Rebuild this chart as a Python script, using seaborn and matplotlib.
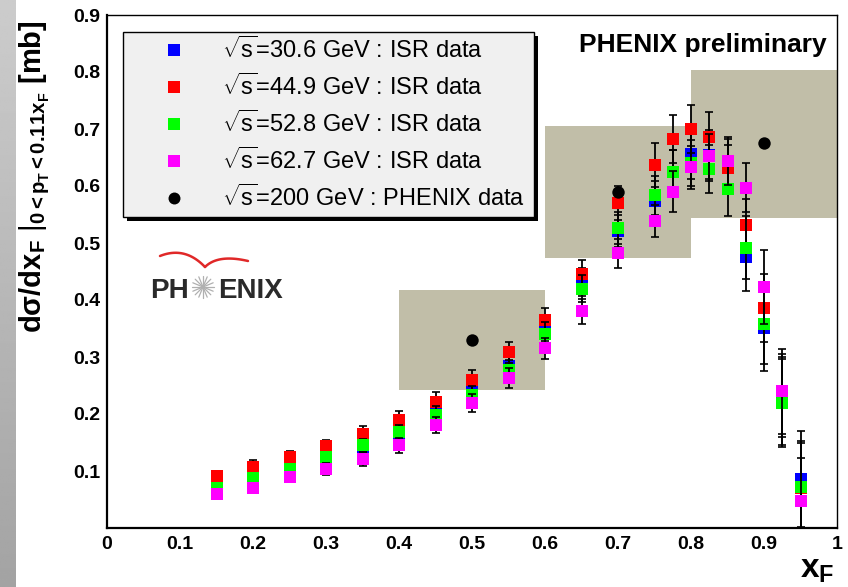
import numpy as np
import pandas as pd
import matplotlib
matplotlib.use("Agg")
import matplotlib.pyplot as plt
import seaborn as sns
from matplotlib.patches import Rectangle
from matplotlib.lines import Line2D
from matplotlib.ticker import MultipleLocator, FixedLocator

# ---------------- data ----------------
xf = [0.15, 0.2, 0.25, 0.3, 0.35, 0.4, 0.45, 0.5, 0.55, 0.6, 0.65, 0.7,
      0.75, 0.775, 0.8, 0.825, 0.85, 0.875, 0.9, 0.925, 0.95]

isr_306 = [0.080, 0.097, 0.115, 0.133, 0.142, 0.158, 0.210, 0.243, 0.285, 0.350, 0.432, 0.521,
           0.573, 0.624, 0.657, 0.654, 0.638, 0.475, 0.351, 0.225, 0.086]
isr_306_err = [0.008, 0.009, 0.010, 0.011, 0.012, 0.014, 0.016, 0.018, 0.020, 0.022, 0.025, 0.028,
               0.035, 0.040, 0.045, 0.045, 0.045, 0.060, 0.075, 0.080, 0.085]

isr_449 = [0.0915, 0.1075, 0.124, 0.143, 0.165, 0.189, 0.221, 0.259, 0.308, 0.365, 0.445, 0.570,
           0.637, 0.682, 0.700, 0.686, 0.632, 0.532, 0.386, 0.230, 0.070]
isr_449_err = [0.008, 0.011, 0.011, 0.0115, 0.014, 0.016, 0.017, 0.018, 0.019, 0.021, 0.026, 0.030,
               0.038, 0.042, 0.042, 0.043, 0.040, 0.045, 0.060, 0.070, 0.080]

isr_528 = [0.071, 0.0877, 0.104, 0.124, 0.145, 0.168, 0.199, 0.233, 0.277, 0.341, 0.420, 0.527,
           0.584, 0.625, 0.640, 0.630, 0.594, 0.492, 0.358, 0.219, 0.0725]
isr_528_err = [0.006, 0.007, 0.008, 0.009, 0.011, 0.013, 0.015, 0.017, 0.018, 0.020, 0.024, 0.028,
               0.034, 0.038, 0.040, 0.042, 0.046, 0.055, 0.070, 0.077, 0.080]

isr_627 = [0.0605, 0.071, 0.0886, 0.1035, 0.121, 0.145, 0.180, 0.219, 0.263, 0.315, 0.380, 0.482,
           0.538, 0.590, 0.633, 0.652, 0.644, 0.597, 0.423, 0.2395, 0.048]
isr_627_err = [0.006, 0.007, 0.008, 0.010, 0.012, 0.013, 0.014, 0.016, 0.017, 0.019, 0.022, 0.025,
               0.028, 0.036, 0.038, 0.040, 0.042, 0.043, 0.065, 0.074, 0.075]

phenix_x = [0.5, 0.7, 0.9]
phenix_y = [0.33, 0.59, 0.675]

sys_x_lo = [0.4, 0.6, 0.8]
sys_x_hi = [0.6, 0.8, 1.0]
sys_y_lo = [0.242, 0.474, 0.544]
sys_y_hi = [0.418, 0.705, 0.803]

series_labels = ["30.6", "44.9", "52.8", "62.7"]
series_colors = ["#0000FF", "#FF0000", "#00FF00", "#FF00FF"]
series_vals = [isr_306, isr_449, isr_528, isr_627]
series_errs = [isr_306_err, isr_449_err, isr_528_err, isr_627_err]

xticks = [0, 0.1, 0.2, 0.3, 0.4, 0.5, 0.6, 0.7, 0.8, 0.9, 1.0]
xtick_labels = ["0", "0.1", "0.2", "0.3", "0.4", "0.5", "0.6", "0.7", "0.8", "0.9", "1"]
yticks = [0.1, 0.2, 0.3, 0.4, 0.5, 0.6, 0.7, 0.8, 0.9]
ytick_labels = ["0.1", "0.2", "0.3", "0.4", "0.5", "0.6", "0.7", "0.8", "0.9"]

# ---------------- style ----------------
sns.set_theme(style="white")
plt.rcParams["font.family"] = ["Liberation Sans", "DejaVu Sans"]
plt.rcParams["mathtext.fontset"] = "custom"
plt.rcParams["mathtext.rm"] = "Liberation Sans"
plt.rcParams["mathtext.bf"] = "Liberation Sans:bold"
plt.rcParams["mathtext.it"] = "Liberation Sans:italic"

W, H = 848, 587
fig = plt.figure(figsize=(W / 100, H / 100), dpi=100)
fig.patch.set_facecolor("white")


def fx(x):
    return x / W


def fy(y):
    return 1 - y / H


# left gray gradient strip
bg = fig.add_axes([0, 0, 16 / W, 1])
grad = np.linspace(0.80, 0.64, 256).reshape(-1, 1)
bg.imshow(grad, cmap="gray", vmin=0, vmax=1, aspect="auto")
bg.axis("off")

ax = fig.add_axes([107 / W, 1 - 528 / H, 730 / W, 513 / H])
ax.set_facecolor("white")

# systematic boxes
for lo, hi, ylo, yhi in zip(sys_x_lo, sys_x_hi, sys_y_lo, sys_y_hi):
    ax.fill_between([lo, hi], [ylo, ylo], [yhi, yhi], color="#C1BEA8", lw=0, zorder=1)

# ISR series
for k, (vals, errs, col) in enumerate(zip(series_vals, series_errs, series_colors)):
    ax.errorbar(xf, vals, yerr=errs, fmt="none", ecolor="black", elinewidth=1.3,
                capsize=2.6, capthick=1.2, zorder=3 + 2 * k)
    df = pd.DataFrame({"xF": xf, "val": vals})
    sns.scatterplot(data=df, x="xF", y="val", marker="s", color=col, s=72,
                    linewidth=0, ax=ax, zorder=4 + 2 * k, legend=False)

# PHENIX points
dfp = pd.DataFrame({"xF": phenix_x, "val": phenix_y})
sns.scatterplot(data=dfp, x="xF", y="val", marker="o", color="black", s=80,
                linewidth=0, ax=ax, zorder=20, legend=False)

ax.set_xlim(0, 1)
ax.set_ylim(0, 0.9)
ax.set_xlabel("")
ax.set_ylabel("")
ax.xaxis.set_major_locator(FixedLocator(xticks))
ax.set_xticklabels(xtick_labels)
ax.yaxis.set_major_locator(FixedLocator(yticks))
ax.set_yticklabels(ytick_labels)
ax.xaxis.set_minor_locator(MultipleLocator(0.02))
ax.yaxis.set_minor_locator(MultipleLocator(0.02))
ax.tick_params(which="both", direction="in", top=False, right=False, color="black",
               width=1.1, labelsize=14, labelcolor="black")
ax.tick_params(axis="x", which="major", length=10.8, pad=6)
ax.tick_params(axis="x", which="minor", length=5.5)
ax.tick_params(axis="y", which="major", length=15.8, pad=5)
ax.tick_params(axis="y", which="minor", length=7.2)
for lab in ax.get_xticklabels() + ax.get_yticklabels():
    lab.set_fontweight("bold")
for side in ["left", "bottom"]:
    ax.spines[side].set_linewidth(1.6)
    ax.spines[side].set_color("black")
for side in ["top", "right"]:
    ax.spines[side].set_linewidth(1.0)
    ax.spines[side].set_color("black")

# axis titles
fig.text(fx(17), fy(333), "dσ/dx$_{\\mathbf{F}}$ $|_{\\mathbf{0<p_{T}<0.11x_{F}}}$ [mb]",
         rotation=90, ha="left", va="bottom", fontsize=21, fontweight="bold", color="black")
fig.text(fx(834), fy(578), "x$_{\\mathbf{F}}$", ha="right", va="baseline",
         fontsize=24, fontweight="bold", color="black")

# PHENIX preliminary
fig.text(fx(827), fy(51.7), "PHENIX preliminary", ha="right", va="baseline",
         fontsize=19, fontweight="bold", color="black")

# legend (manual, ROOT style)
lx0, ly0, lw_, lh_ = 123, 31.7, 411, 185
fig.add_artist(Rectangle((fx(lx0 + 4), fy(ly0 + lh_ + 4)), lw_ / W, lh_ / H,
                         transform=fig.transFigure, facecolor="black", edgecolor="none", zorder=30))
fig.add_artist(Rectangle((fx(lx0), fy(ly0 + lh_)), lw_ / W, lh_ / H,
                         transform=fig.transFigure, facecolor="#F0F0F0", edgecolor="black",
                         lw=1.0, zorder=31))
leg_rows = [50, 87, 124, 161, 198]
leg_texts = ["$\\sqrt{\\mathrm{s}}$=" + e + " GeV : ISR data" for e in series_labels] + \
            ["$\\sqrt{\\mathrm{s}}$=200 GeV : PHENIX data"]
leg_markers = ["s", "s", "s", "s", "o"]
leg_colors = series_colors + ["black"]
for yy, txt, mk, col in zip(leg_rows, leg_texts, leg_markers, leg_colors):
    fig.add_artist(Line2D([fx(174)], [fy(yy)], marker=mk, markersize=8.4 if mk == "s" else 8.6,
                          color=col, markeredgewidth=0, linestyle="none",
                          transform=fig.transFigure, zorder=32))
    fig.text(fx(222), fy(yy), txt, ha="left", va="center", fontsize=17, color="black", zorder=33)

# PHENIX logo
fig.text(fx(150), fy(298), "PH", ha="left", va="baseline", fontsize=20, fontweight="bold",
         color="#2a2a2a")
fig.text(fx(283), fy(298), "ENIX", ha="right", va="baseline", fontsize=20, fontweight="bold",
         color="#2a2a2a")
cx, cy, r = 203, 287, 11
for a in np.linspace(0, np.pi, 8, endpoint=False):
    fig.add_artist(Line2D([fx(cx - r * np.cos(a)), fx(cx + r * np.cos(a))],
                          [fy(cy - r * np.sin(a)), fy(cy + r * np.sin(a))],
                          color="#b0b0b0", lw=0.9, transform=fig.transFigure))


def bez(p0, p1, p2, n=30):
    t = np.linspace(0, 1, n)[:, None]
    p0, p1, p2 = map(np.array, (p0, p1, p2))
    return (1 - t) ** 2 * p0 + 2 * (1 - t) * t * p1 + t ** 2 * p2


left_w = bez((160, 256), (185, 246), (205, 267))
right_w = bez((205, 267), (218, 254), (248, 261))
for seg in (left_w, right_w):
    fig.add_artist(Line2D(fx(seg[:, 0]), fy(seg[:, 1]), color="#E02828", lw=1.8,
                          transform=fig.transFigure, solid_capstyle="round"))

fig.savefig("out.png", dpi=100)
